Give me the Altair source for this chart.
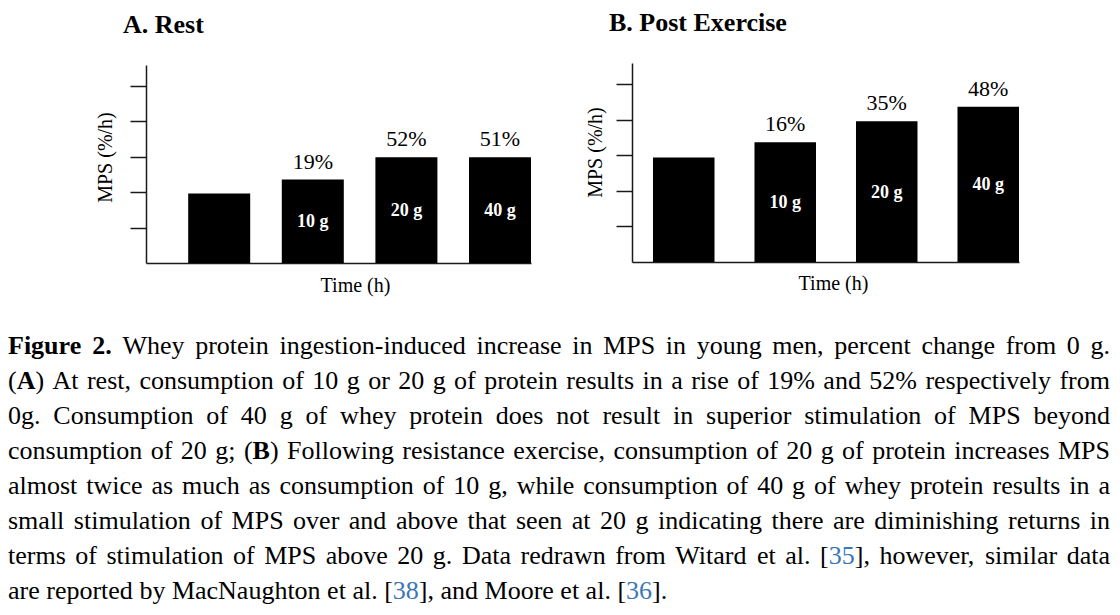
import altair as alt
import pandas as pd

# ---------------- data ----------------
doses = ["0 g", "10 g", "20 g", "40 g"]
rest_mps = [1.96, 2.35, 2.98, 2.98]
post_mps = [2.94, 3.37, 3.96, 4.37]
rest_pct = ["", "19%", "52%", "51%"]
post_pct = ["", "16%", "35%", "48%"]
dose_labels = ["", "10 g", "20 g", "40 g"]
tick_values = [1, 2, 3, 4, 5]
panel_titles = ["A. Rest", "B. Post Exercise"]
x_title = "Time (h)"
y_title = "MPS (%/h)"

# caption: each line is a list of words, each word a list of (text, style) pieces
# style: n = normal, b = bold, l = link (blue)
caption_lines = [
    [[("Figure", "b")], [("2.", "b")], [("Whey", "n")], [("protein", "n")], [("ingestion-induced", "n")],
     [("increase", "n")], [("in", "n")], [("MPS", "n")], [("in", "n")], [("young", "n")], [("men,", "n")],
     [("percent", "n")], [("change", "n")], [("from", "n")], [("0", "n")], [("g.", "n")]],
    [[("(", "n"), ("A", "b"), (")", "n")]] + [[(w, "n")] for w in
     "At rest, consumption of 10 g or 20 g of protein results in a rise of 19% and 52% respectively from".split()],
    [[(w, "n")] for w in
     "0g. Consumption of 40 g of whey protein does not result in superior stimulation of MPS beyond".split()],
    [[(w, "n")] for w in "consumption of 20 g;".split()] + [[("(", "n"), ("B", "b"), (")", "n")]] + [[(w, "n")] for w in
     "Following resistance exercise, consumption of 20 g of protein increases MPS".split()],
    [[(w, "n")] for w in
     "almost twice as much as consumption of 10 g, while consumption of 40 g of whey protein results in a".split()],
    [[(w, "n")] for w in
     "small stimulation of MPS over and above that seen at 20 g indicating there are diminishing returns in".split()],
    [[(w, "n")] for w in "terms of stimulation of MPS above 20 g. Data redrawn from Witard et al.".split()]
    + [[("[", "n"), ("35", "l"), ("],", "n")]] + [[(w, "n")] for w in "however, similar data".split()],
    [[(w, "n")] for w in "are reported by MacNaughton et al.".split()]
    + [[("[", "n"), ("38", "l"), ("],", "n")]] + [[(w, "n")] for w in "and Moore et al.".split()]
    + [[("[", "n"), ("36", "l"), ("].", "n")]],
]

# ---------------- layout / style ----------------
W, H = 1120, 615
SERIF = "Liberation Serif"
caption_left, caption_right = 8, 1110
caption_first_baseline, caption_last_baseline = 354, 599
caption_size = 26
title_pos = [(123, 33), (609, 31)]
LINK_BLUE = "#3a78b5"
AXIS_COLOR = "#1a1a1a"

# Times / Liberation Serif advance widths (per 1000 em) used to justify the caption
_REG = {" ": 250, "%": 833, "(": 333, ")": 333, ",": 250, "-": 333, ".": 250, "/": 278, ":": 278, ";": 278,
        "[": 333, "]": 333,
        "A": 722, "B": 667, "C": 667, "D": 722, "E": 611, "F": 556, "G": 722, "H": 722, "I": 333, "J": 389,
        "K": 722, "L": 611, "M": 889, "N": 722, "O": 722, "P": 556, "Q": 722, "R": 667, "S": 556, "T": 611,
        "U": 722, "V": 722, "W": 944, "X": 722, "Y": 722, "Z": 611,
        "a": 444, "b": 500, "c": 444, "d": 500, "e": 444, "f": 333, "g": 500, "h": 500, "i": 278, "j": 278,
        "k": 500, "l": 278, "m": 778, "n": 500, "o": 500, "p": 500, "q": 500, "r": 333, "s": 389, "t": 278,
        "u": 500, "v": 500, "w": 722, "x": 500, "y": 500, "z": 444}
for _d in "0123456789":
    _REG[_d] = 500
_BOLD = dict(_REG)
_BOLD.update({"A": 722, "B": 667, "F": 611, "g": 500, "i": 278, "u": 556, "r": 444, "e": 444, "2": 500, ".": 250})


def text_width(s, style):
    table = _BOLD if style == "b" else _REG
    return sum(table.get(ch, 500) for ch in s) / 1000.0 * caption_size


def panel(values, pcts, x_range, pad_inner, pad_outer, y_range, y_max, xtitle_pos, ytitle_pos):
    df = pd.DataFrame({"dose": doses, "mps": values, "pct": pcts, "lab": dose_labels})
    xscale = alt.Scale(type="band", domain=doses, range=x_range, paddingInner=pad_inner,
                       paddingOuter=pad_outer, align=1)
    yscale = alt.Scale(domain=[0, y_max], range=y_range, nice=False, zero=True)
    xaxis = alt.Axis(
        orient="bottom", offset=y_range[0] - H, labels=False, ticks=False,
        domainColor=AXIS_COLOR, domainWidth=1.5, grid=False,
        title=x_title, titleFont=SERIF, titleFontSize=20, titleFontWeight="normal",
        titleColor="black", titleX=xtitle_pos[0], titleY=xtitle_pos[1],
        titleAlign="center", titleBaseline="middle",
    )
    yaxis = alt.Axis(
        orient="left", offset=-x_range[0], values=tick_values, labels=False,
        tickSize=16, tickColor=AXIS_COLOR, tickWidth=1.5,
        domainColor=AXIS_COLOR, domainWidth=1.5, grid=False,
        title=y_title, titleFont=SERIF, titleFontSize=20, titleFontWeight="normal",
        titleColor="black", titleAngle=270, titleX=ytitle_pos[0] - x_range[0],
        titleY=ytitle_pos[1], titleAlign="center", titleBaseline="middle",
    )
    base = alt.Chart(df)
    bars = base.mark_bar(color="black").encode(
        x=alt.X("dose:N", sort=doses, scale=xscale, axis=xaxis),
        y=alt.Y("mps:Q", scale=yscale, axis=yaxis),
    )
    pct = base.transform_filter("datum.pct != ''").mark_text(
        font=SERIF, fontSize=22, color="black", baseline="alphabetic", dy=-11
    ).encode(
        x=alt.X("dose:N", sort=doses, scale=xscale, axis=None, bandPosition=0.5),
        y=alt.Y("mps:Q", scale=yscale, axis=None),
        text="pct:N",
    )
    lab = base.transform_filter("datum.lab != ''").transform_calculate(
        mid="datum.mps / 2"
    ).mark_text(
        font=SERIF, fontSize=18, fontWeight="bold", color="white", baseline="alphabetic", dy=6
    ).encode(
        x=alt.X("dose:N", sort=doses, scale=xscale, axis=None, bandPosition=0.5),
        y=alt.Y("mid:Q", scale=yscale, axis=None),
        text="lab:N",
    )
    return [bars, pct, lab]


panel_a = panel(rest_mps, rest_pct, [146, 531], 0.3376, 0.2254, [263, 65], 5.58, (355, 22), (105, 157))
panel_b = panel(post_mps, post_pct, [632, 1019], 0.394, 0.1034, [262, 63], 5.6, (833, 21), (595, 152))

# panel titles
tdf = pd.DataFrame({
    "text": panel_titles,
    "px": [p[0] for p in title_pos],
    "py": [p[1] for p in title_pos],
})
titles = alt.Chart(tdf).mark_text(
    font=SERIF, fontSize=26, fontWeight="bold", color="black", align="left", baseline="alphabetic"
).encode(
    x=alt.X("px:Q", scale=None, axis=None),
    y=alt.Y("py:Q", scale=None, axis=None),
    text="text:N",
)

# caption pieces laid out word by word (justified like the original)
rows = []
n_lines = len(caption_lines)
for li, words in enumerate(caption_lines):
    widths = [sum(text_width(t, s) for t, s in w) for w in words]
    if li < n_lines - 1 and len(words) > 1:
        gap = (caption_right - caption_left - sum(widths)) / (len(words) - 1)
    else:
        gap = text_width(" ", "n")
    cx = caption_left
    for w, ww in zip(words, widths):
        px = cx
        for t, s in w:
            rows.append({"line": li, "text": t, "style": s, "px": px})
            px += text_width(t, s)
        cx += ww + gap
cdf = pd.DataFrame(rows)
cap_y = alt.Y(
    "line:Q",
    scale=alt.Scale(domain=[0, n_lines - 1], range=[caption_first_baseline, caption_last_baseline],
                    nice=False, zero=False),
    axis=None,
)


def caption_layer(style, weight, color):
    return alt.Chart(cdf).transform_filter(f"datum.style == '{style}'").mark_text(
        font=SERIF, fontSize=caption_size, fontWeight=weight, color=color,
        align="left", baseline="alphabetic",
    ).encode(
        x=alt.X("px:Q", scale=None, axis=None),
        y=cap_y,
        text="text:N",
    )


cap_n = caption_layer("n", "normal", "black")
cap_b = caption_layer("b", "bold", "black")
cap_l = caption_layer("l", "normal", LINK_BLUE)

chart = alt.layer(*panel_a, *panel_b, titles, cap_n, cap_b, cap_l).resolve_scale(
    x="independent", y="independent"
).properties(
    width=W, height=H, padding=0,
    autosize=alt.AutoSizeParams(type="none"),
    background="white",
).configure_view(stroke=None)

chart.save("out.html", embed_options={"renderer": "svg", "actions": False})
